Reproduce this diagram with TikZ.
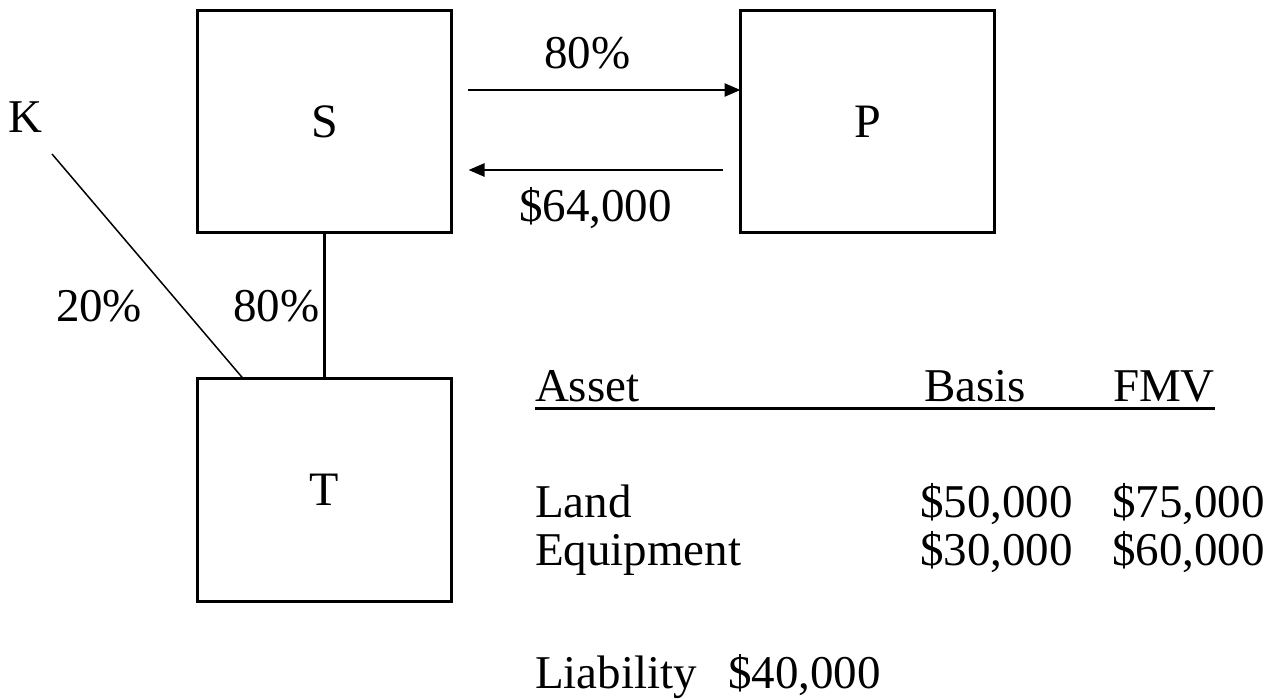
\documentclass[tikz,border=0pt]{standalone}
\usepackage{fontspec}
\setmainfont{Liberation Serif}
\usetikzlibrary{arrows.meta,calc}
\begin{document}
\begin{tikzpicture}[x=1pt,y=-1pt,
  entity/.style={draw,line width=3pt,minimum width=254pt,minimum height=222pt,
    inner sep=0pt,outer sep=0pt,font=\fontsize{48}{56}\selectfont},
  lbl/.style={anchor=base west,inner sep=0pt,outer sep=0pt,font=\fontsize{47}{56}\selectfont},
  flow/.style={line width=2.5pt,-{Triangle[length=16pt,width=13pt]}},
  own/.style={line width=3pt},
  minor/.style={line width=1.5pt}]
\useasboundingbox (0,0) rectangle (1283,700);

% entities
\node[entity] (S) at (324.5,122) {S};
\node[entity] (P) at (867.5,122) {P};
\node[entity] (T) at (324.5,490) {T};
\node[lbl] (K) at (9,133) {K};

% ownership lines
\coordinate (kfoot) at (52,154);
\draw[own] (S.south) -- (T.north);
\draw[minor] (kfoot) -- ([xshift=46pt]T.north west);
\node[lbl] (pK) at (56,322) {20\%};
\node[lbl] (pS) at (233,322) {80\%};

% exchange between S and P
\draw[flow] ([shift={(16,-32)}]S.east) -- ([yshift=32pt]P.west);
\draw[flow] ([shift={(-18,48)}]P.west) -- ([shift={(17,48)}]S.east);
\node[lbl] (stock) at (544,69) {80\%};
\node[lbl] (cash) at (519,222) {\$64,000};

% asset table
\node[lbl] (hA) at (535,402) {Asset};
\node[lbl] (hB) at (924,402) {Basis};
\node[lbl] (hF) at (1113,402) {FMV};
\draw[own] (535,409) -- (1215,409);
\node[lbl] (land) at (535,518) {Land};
\node[lbl] (landB) at (920,518) {\$50,000};
\node[lbl] (landF) at (1112,518) {\$75,000};
\node[lbl] (eq) at (535,565) {Equipment};
\node[lbl] (eqB) at (920,565) {\$30,000};
\node[lbl] (eqF) at (1112,565) {\$60,000};
\node[lbl] (liab) at (535,688) {Liability};
\node[lbl] (liabV) at (728,688) {\$40,000};
\end{tikzpicture}
\end{document}
